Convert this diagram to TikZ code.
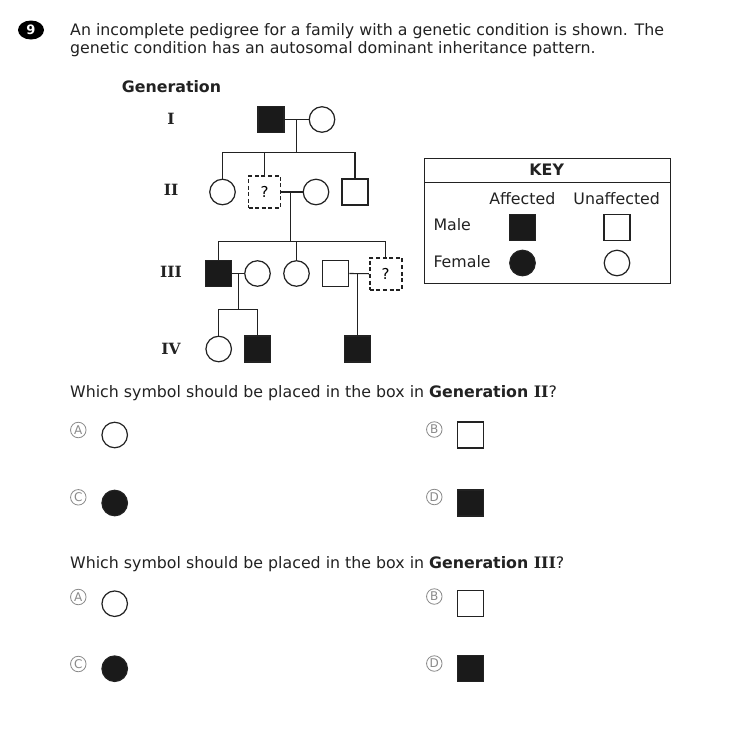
\documentclass[tikz,border=0pt]{standalone}
\usepackage{fontspec}
\setmainfont{DejaVu Sans}
\newfontfamily\rnfont{DejaVu Serif}
\usetikzlibrary{calc,shapes.geometric}
\definecolor{lc}{HTML}{222222}
\definecolor{fc}{HTML}{1A1A1A}
\definecolor{og}{HTML}{8A8A8A}
\newcommand{\rn}[1]{{\rnfont\bfseries #1}}
\begin{document}
\begin{tikzpicture}[x=1pt,y=-1pt,
  txt/.style={font=\fontsize{15.8}{18}\selectfont, inner sep=0, text=lc},
  male/.style={rectangle, draw=lc, line width=1.2pt, minimum size=26pt, inner sep=0},
  female/.style={circle, draw=lc, line width=1.2pt, minimum size=25.5pt, inner sep=0},
  aff/.style={fill=fc},
  unk/.style={rectangle, draw=lc, line width=1.7pt, dash pattern=on 4pt off 2.6pt, minimum size=32pt, inner sep=0, font=\fontsize{15}{15}\selectfont},
  conn/.style={draw=lc, line width=1.1pt},
  optl/.style={circle, draw=og, line width=0.8pt, text=og, inner sep=0, minimum size=15.5pt, font=\fontsize{12}{12}\selectfont},
  genl/.style={font=\fontsize{15.8}{15.8}\selectfont, inner sep=0, text=lc},
  rnl/.style={font=\fontsize{15.5}{15.5}\selectfont, inner sep=0, text=lc}]
\useasboundingbox (0,0) rectangle (737,748);
\fill[white] (0,0) rectangle (737,748);
% badge
\node[ellipse, fill=black, minimum width=26pt, minimum height=19pt, inner sep=0, text=white, font=\fontsize{13}{13}\selectfont\bfseries] (badge) at (31,30) {9};
\node[txt, anchor=base west] (l1) at (70,35.5) {An incomplete pedigree for a family with a genetic condition is shown. The};
\node[txt, anchor=base west] (l2) at (70,53.5) {genetic condition has an autosomal dominant inheritance pattern.};
% generation labels
\node[genl, font=\fontsize{15.8}{15.8}\selectfont\bfseries] (gen) at (171.5,87) {Generation};
\node[rnl] (gI) at (171,119) {\rn{I}};
\node[rnl] (gII) at (171,189.5) {\rn{II}};
\node[rnl] (gIII) at (171,272) {\rn{III}};
\node[rnl] (gIV) at (171,348.5) {\rn{IV}};
% generation I
\node[male, aff] (I1) at (271,119.5) {};
\node[female] (I2) at (322,119.5) {};
% generation II
\node[female] (II1) at (222.5,192) {};
\node[unk] (II2) at (264.5,192) {?};
\node[female] (II3) at (316,192) {};
\node[male] (II4) at (355,192) {};
% generation III
\node[male, aff] (III1) at (218.7,273.5) {};
\node[female] (III2) at (257.5,273.5) {};
\node[female] (III3) at (296.5,273.5) {};
\node[male] (III4) at (335.8,273.5) {};
\node[unk] (III5) at (385.7,273.7) {?};
% generation IV
\node[female] (IV1) at (218.7,349) {};
\node[male, aff] (IV2) at (257.5,349) {};
\node[male, aff] (IV3) at (357.3,349) {};
% connectors
\coordinate (m1) at (296.7,119.5);
\coordinate (s1) at (296.7,152.3);
\draw[conn] (I1.east) -- (I2.west);
\draw[conn] (m1) -- (s1);
\draw[conn] (II1.north) |- (s1) -| (II4.north);
\draw[conn] (II2.north) -- (II2.north |- s1);
\coordinate (m2) at (290.7,192);
\coordinate (s2) at (290.7,241.5);
\draw[conn] (II2.east) -- (II3.west);
\draw[conn] (m2) -- (s2);
\draw[conn] (III1.north) |- (s2) -| (III5.north);
\draw[conn] (III3.north) -- (III3.north |- s2);
\coordinate (m3) at (238.3,273.5);
\coordinate (s3) at (238.3,309.3);
\draw[conn] (III1.east) -- (III2.west);
\draw[conn] (m3) -- (s3);
\draw[conn] (IV1.north) |- (s3) -| (IV2.north);
\coordinate (m4) at (357.3,273.5);
\draw[conn] (III4.east) -- (III5.west);
\draw[conn] (m4) -- (IV3.north);
% key
\node[draw=lc, line width=1.1pt, minimum width=246pt, minimum height=125pt, anchor=north west, inner sep=0] (key) at (424,158.3) {};
\coordinate (kh1) at (424,182.7);
\coordinate (kh2) at (670,182.7);
\draw[conn] (kh1) -- (kh2);
\node[genl, font=\fontsize{15.8}{15.8}\selectfont\bfseries] (keyt) at (546.7,170) {KEY};
\node[genl] (kaff) at (522.3,198.5) {Affected};
\node[genl] (kun) at (616.7,198.5) {Unaffected};
\node[genl, anchor=west] (kmale) at (433.3,225) {Male};
\node[genl, anchor=west] (kfem) at (433.3,261.5) {Female};
\node[male, aff] (k1) at (522.5,227.3) {};
\node[male] (k2) at (617,227.3) {};
\node[female, aff] (k3) at (522.5,263) {};
\node[female] (k4) at (617,263) {};
% question 1
\node[txt, anchor=base west] (q1) at (70,397.5) {Which symbol should be placed in the box in \textbf{Generation \rn{II}}?};
\node[optl] (q1a) at (78.3,430) {A};
\node[female] (q1as) at (114.7,435) {};
\node[optl] (q1b) at (434.3,429.5) {B};
\node[male] (q1bs) at (470.7,435) {};
\node[optl] (q1c) at (78.3,497.3) {C};
\node[female, aff] (q1cs) at (114.7,503) {};
\node[optl] (q1d) at (434.3,497) {D};
\node[male, aff] (q1ds) at (470.7,503) {};
% question 2
\node[txt, anchor=base west] (q2) at (70,568.5) {Which symbol should be placed in the box in \textbf{Generation \rn{III}}?};
\node[optl] (q2a) at (78.3,597) {A};
\node[female] (q2as) at (114.7,603.7) {};
\node[optl] (q2b) at (434.3,596.5) {B};
\node[male] (q2bs) at (470.7,603.7) {};
\node[optl] (q2c) at (78.3,664) {C};
\node[female, aff] (q2cs) at (114.7,668.7) {};
\node[optl] (q2d) at (434.3,663.5) {D};
\node[male, aff] (q2ds) at (470.7,668.7) {};
\end{tikzpicture}
\end{document}
